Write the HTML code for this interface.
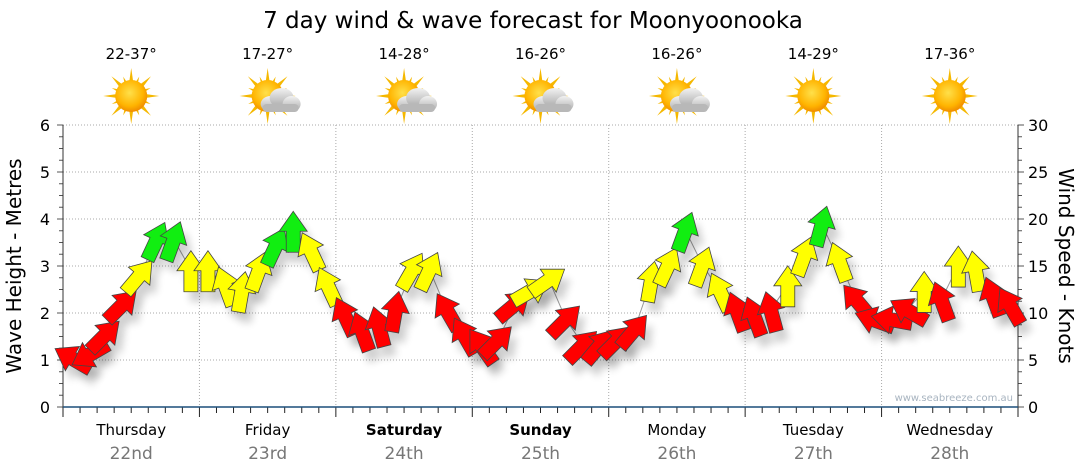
<!DOCTYPE html>
<html><head><meta charset="utf-8"><style>
body{margin:0;background:#fff;font-family:"DejaVu Sans","Liberation Sans",sans-serif}
svg{display:block}
</style></head><body>
<svg id="chart" width="1080" height="475" xmlns="http://www.w3.org/2000/svg">
<defs>
<radialGradient id="sunG" cx="45%" cy="40%" r="60%"><stop offset="0" stop-color="#ffe04a"/><stop offset="0.7" stop-color="#ffb400"/><stop offset="1" stop-color="#f08c00"/></radialGradient>
<linearGradient id="cloudG" x1="0" y1="0" x2="0" y2="1"><stop offset="0" stop-color="#f2f2f2"/><stop offset="1" stop-color="#a8a8a8"/></linearGradient>
<filter id="sh" x="-50%" y="-50%" width="200%" height="200%"><feGaussianBlur stdDeviation="4"/></filter>
</defs>
<text x="533" y="28" font-size="23" text-anchor="middle" fill="#000">7 day wind &amp; wave forecast for Moonyoonooka</text>
<g id="axes"></g>
<g id="header"></g>
<g id="shadows"></g>
<g id="arrows"></g>
</svg>
<script>
const days = ["Thursday","Friday","Saturday","Sunday","Monday","Tuesday","Wednesday"];
const dates = ["22nd","23rd","24th","25th","26th","27th","28th"];
const temps = ["22-37°","17-27°","14-28°","16-26°","16-26°","14-29°","17-36°"];
const icons = ["sun","cloud","cloud","cloud","cloud","sun","sun"];
const waveTicks = [0,1,2,3,4,5,6];
const windTicks = [0,5,10,15,20,25,30];
// 3-hourly wind speed (knots) and direction arrow points to (deg, 0=up, clockwise)
const windSpeed = [5.2,5.5,7.7,10.9,14,17.8,17.8,14.6, 14.6,13,12.4,14.6,17.2,18.8,16.7,13, 9.8,8.2,8.7,10.3,14.6,14.6,10.3,7.7, 6.6,7.1,10.9,12.4,13.5,9.3,6.6,6.6, 7.1,8.2,13.5,15.1,18.8,15.1,12.4,10.3, 9.8,10.3,13,16.2,19.4,15.6,11.4,9.3, 9.3,10.3,12.4,11.4,15.1,14.6,11.9,10.9];
const windDir = [-60,-120,45,45,40,25,20,0, 0,-20,10,20,25,0,-25,-25, -25,-20,-15,10,30,25,-30,-30, -35,45,50,60,55,45,45,40, 45,40,10,25,20,20,-25,-20, -20,-15,0,20,15,-20,-40,-70, -80,-60,0,-20,0,-10,-20,-30];

const X0=63, X1=1018, Y0=407, Y1=125;
const hourX = h => X0 + h/168*(X1-X0);
const waveY = v => Y0 - v/6*(Y0-Y1);
const windY = v => Y0 - v/30*(Y0-Y1);
const NS="http://www.w3.org/2000/svg";
function mk(tag, attrs, parent){const e=document.createElementNS(NS,tag);for(const k in attrs)e.setAttribute(k,attrs[k]);parent.appendChild(e);return e;}
const ax=document.getElementById('axes');
waveTicks.forEach(v=>{ if(v>0){
  const g=mk('line',{x1:X0,x2:X1,y1:waveY(v),y2:waveY(v),stroke:'#aaa','stroke-dasharray':'1,2'},ax);
  
  }
  const t=mk('text',{x:50,y:waveY(v)+6,'font-size':16,'text-anchor':'end',fill:'#000'},ax); t.textContent=v;
  
  
});
for(let v=0;v<=6;v+=0.25){mk('line',{x1:X0-(v%1===0?6:4),x2:X0,y1:waveY(v),y2:waveY(v),stroke:'#555'},ax);}
windTicks.forEach(v=>{
  const t=mk('text',{x:1028,y:windY(v)+6,'font-size':16,fill:'#000'},ax); t.textContent=v;
  
  
});
for(let v=0;v<=30;v+=1.25){mk('line',{x1:X1,x2:X1+(v%5===0?6:4),y1:windY(v),y2:windY(v),stroke:'#555'},ax);}
mk('line',{x1:X0,x2:X0,y1:Y1,y2:Y0,stroke:'#333'},ax);
mk('line',{x1:X1,x2:X1,y1:Y1,y2:Y0,stroke:'#333'},ax);
for(let d=1;d<7;d++){const x=hourX(d*24);const g=mk('line',{x1:x,x2:x,y1:Y1,y2:Y0,stroke:'#aaa','stroke-dasharray':'1,2'},ax);
  
  }
for(let h=0;h<=168;h+=3){const x=hourX(h);mk('line',{x1:x,x2:x,y1:Y0,y2:Y0+(h%24===0?10:6),stroke:'#222'},ax);}
mk('line',{x1:X0,x2:X1,y1:Y0,y2:Y0,stroke:'#1c4e7a','stroke-width':1.5},ax);
const wm=mk('text',{x:1013,y:401,'font-size':10,'text-anchor':'end',fill:'#a8b4c0'},ax); wm.textContent='www.seabreeze.com.au';


const yl=mk('text',{transform:'translate(21,266) rotate(-90)','font-size':20,'text-anchor':'middle',fill:'#000'},ax); yl.textContent='Wave Height - Metres';


const yr=mk('text',{transform:'translate(1059,266) rotate(90)','font-size':20,'text-anchor':'middle',fill:'#000'},ax); yr.textContent='Wind Speed - Knots';


const hd=document.getElementById('header');
days.forEach((d,i)=>{
  const cx=hourX(i*24+12);
  const dn=mk('text',{x:cx,y:435,'font-size':15,'text-anchor':'middle',fill:'#000','font-weight':(i===2||i===3)?'bold':'normal'},hd); dn.textContent=d;
  
  
  const dt=mk('text',{x:cx,y:459,'font-size':17,'text-anchor':'middle',fill:'#777'},hd); dt.textContent=dates[i];
  
  
  const tt=mk('text',{x:cx,y:59,'font-size':15,'text-anchor':'middle',fill:'#000'},hd); tt.textContent=temps[i];
  
  
  const ig=mk('g',{transform:`translate(${cx},96)`},hd);
  
  
  for(let k=0;k<16;k++){const a=k*22.5;const L=k%2?21:28;mk('polygon',{points:`-4,0 4,0 0,-${L}`,fill:'#f5b800',transform:`rotate(${a})`},ig);}
  mk('circle',{r:16,fill:'url(#sunG)'},ig);
  if(icons[i]==='cloud'){
    const c=mk('g',{transform:'translate(10,5)'},ig);
    mk('ellipse',{cx:-7,cy:3,rx:10,ry:8,fill:'url(#cloudG)'},c);
    mk('ellipse',{cx:4,cy:-3,rx:12,ry:10,fill:'url(#cloudG)'},c);
    mk('ellipse',{cx:14,cy:3,rx:9,ry:8,fill:'url(#cloudG)'},c);
    mk('rect',{x:-15,y:3,width:36,height:8,rx:4,fill:'#b8b8b8'},c);
  }
});
const ag=document.getElementById('arrows'), sg=document.getElementById('shadows');
const ARROW="-7,22 7,22 7,1 14,1 0,-19 -14,1 -7,1";
let pts=[];
windSpeed.forEach((s,i)=>pts.push(hourX(i*3+1.5)+','+windY(s)));
const ln=mk('polyline',{points:pts.join(' '),fill:'none',stroke:'#999','stroke-width':1},sg);


windSpeed.forEach((s,i)=>{
  const x=hourX(i*3+1.5), y=windY(s);
  const col = s>=17 ? '#11ee11' : (s>=12 ? '#ffff00' : '#ff0000');
  mk('polygon',{points:ARROW,fill:'#000',opacity:0.18,filter:'url(#sh)',transform:`translate(${x+6},${y+10}) rotate(${windDir[i]})`},sg);
  const a=mk('polygon',{points:ARROW,fill:col,stroke:'#444','stroke-width':0.8,transform:`translate(${x},${y}) rotate(${windDir[i]})`},ag);
  
  
});
</script>
</body></html>
